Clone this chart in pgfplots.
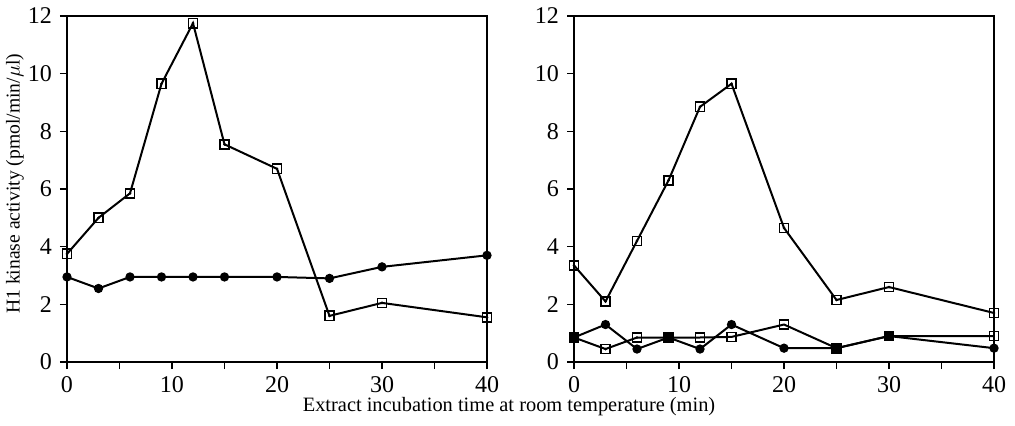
\documentclass[border=0pt]{standalone}
\usepackage{fontspec}
\setmainfont{Liberation Serif}
\usepackage{pgfplots}
\pgfplotsset{compat=1.18}

\pgfplotsset{
  panel/.style={
    scale only axis, width=210pt, height=173pt,
    xmin=0, xmax=40, ymin=0, ymax=12,
    xtick={0,10,20,30,40}, minor xtick={5,15,25,35},
    ytick={0,2,...,12},
    tick align=outside, tick pos=left,
    major tick length=3.5pt, minor tick length=3.5pt,
    axis line style={line width=1pt},
    every tick/.style={black, line width=0.8pt},
    tick label style={font=\fontsize{12}{14}\selectfont},
    /pgf/number format/assume math mode=true,
    xticklabel style={yshift=0pt},
    yticklabel style={xshift=-0.5pt},
  },
  sq/.style={black, line width=1pt, mark=square, mark size=2.3pt,
    mark options={solid, fill=white, line width=0.8pt}},
  dt/.style={only marks, mark=*, mark size=0.45pt, black},
  ci/.style={black, line width=1pt, mark=*, mark size=1.8pt},
}

\begin{document}
\begin{tikzpicture}
\useasboundingbox (-33.5pt,-31.5pt) rectangle (474pt,181pt);

% left panel
\begin{axis}[panel, name=L, at={(0,0)},
  ylabel={H1 kinase activity (pmol/min/$\mu$l)},
  ylabel style={font=\fontsize{9.8}{12}\selectfont,
    at={(axis description cs:-0.124,0.515)}, anchor=center}]
\addplot[ci] coordinates {(0,2.95) (3,2.55) (6,2.95) (9,2.95) (12,2.95) (15,2.95) (20,2.95) (25,2.9) (30,3.3) (40,3.7)};
\addplot[sq] coordinates {(0,3.75) (3,5.0) (6,5.85) (9,9.65) (12,11.75) (15,7.55) (20,6.7) (25,1.6) (30,2.05) (40,1.55)};
\addplot[dt] coordinates {(0,3.75) (3,5.0) (6,5.85) (9,9.65) (12,11.75) (15,7.55) (20,6.7) (25,1.6) (30,2.05) (40,1.55)};
\end{axis}

% right panel
\begin{axis}[panel, name=R, at={(253.5pt,0)}]
\addplot[ci] coordinates {(0,0.85) (3,1.3) (6,0.45) (9,0.85) (12,0.45) (15,1.3) (20,0.48) (25,0.48) (30,0.9) (40,0.48)};
\addplot[sq] coordinates {(0,0.85) (3,0.45) (6,0.85) (9,0.85) (12,0.85) (15,0.87) (20,1.3) (25,0.48) (30,0.9) (40,0.9)};
\addplot[dt] coordinates {(3,0.45) (6,0.85)};
\addplot[sq] coordinates {(0,3.35) (3,2.1) (6,4.2) (9,6.3) (12,8.85) (15,9.65) (20,4.65) (25,2.15) (30,2.6) (40,1.7)};
\addplot[dt] coordinates {(0,3.35) (3,2.1) (6,4.2) (9,6.3) (12,8.85) (15,9.65) (20,4.65) (25,2.15) (30,2.6) (40,1.7)};
\addplot[black, only marks, mark=square*, mark size=2.3pt] coordinates {(0,0.85) (9,0.85) (25,0.48) (30,0.9)};
\end{axis}

\node[font=\fontsize{10.2}{12}\selectfont] at (221pt,-22.5pt) {Extract incubation time at room temperature (min)};
\end{tikzpicture}
\end{document}
